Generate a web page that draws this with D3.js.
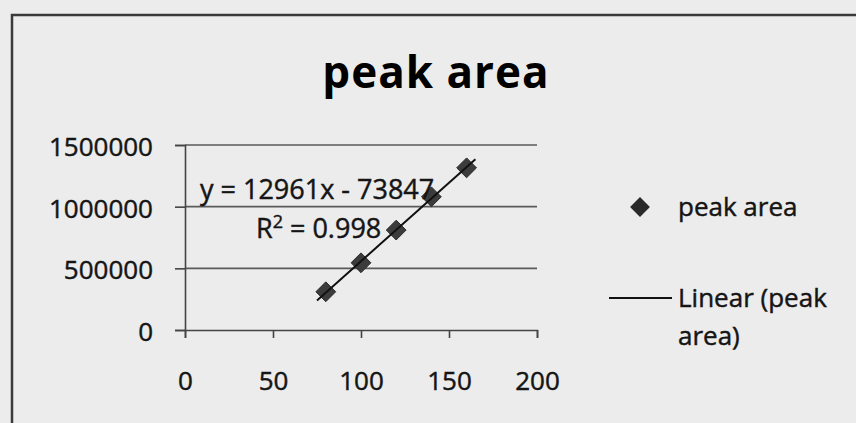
<!DOCTYPE html>
<html>
<head>
<meta charset="utf-8">
<script src="https://cdn.jsdelivr.net/npm/d3@7"></script>
<style>
  html, body { margin: 0; padding: 0; background: #ececec; }
  svg { display: block; font-family: "Open Sans", "Noto Sans", sans-serif; }
  .ink { fill: #151515; stroke: #151515; stroke-width: 0.45px; }
</style>
</head>
<body>
<svg id="chart" width="856" height="423"></svg>
<script>
// values
const concentration = [80, 100, 120, 140, 160];
const peakArea = [310000, 545000, 810000, 1080000, 1315000];
const xTicks = [0, 50, 100, 150, 200];
const yTicks = [0, 500000, 1000000, 1500000];
const titleText = "peak area";
const equationText = "y = 12961x - 73847";
const seriesName = "peak area";
const trendName = ["Linear (peak", "area)"];

function drawScatter() {
  const svg = d3.select("#chart");
  svg.selectAll("*").remove();

  const x = d3.scaleLinear().domain([0, 200]).range([185, 537]);
  const y = d3.scaleLinear().domain([0, 1500000]).range([330, 145]);

  // page frame of the chart object (runs off the right and bottom)
  svg.append("path")
    .attr("d", "M12,430 L12,15 L870,15")
    .attr("fill", "none")
    .attr("stroke", "#3a3a3a")
    .attr("stroke-width", 2.5);

  svg.append("text")
    .attr("x", 436).attr("y", 88)
    .attr("text-anchor", "middle")
    .attr("font-size", 44)
    .attr("font-weight", "bold")
    .attr("letter-spacing", 1)
    .attr("fill", "#000")
    .text(titleText);

  // gridlines
  svg.append("g")
    .selectAll("line")
    .data(yTicks.filter(d => d > 0))
    .enter()
    .append("line")
    .attr("x1", x(0)).attr("x2", x(200))
    .attr("y1", d => y(d)).attr("y2", d => y(d))
    .attr("stroke", "#5a5a5a")
    .attr("stroke-width", 1.6);

  // y axis
  const yAxis = svg.append("g")
    .attr("transform", `translate(${x(0)},0)`)
    .call(d3.axisLeft(y).tickValues(yTicks).tickSize(10).tickPadding(22).tickFormat(d3.format("d")));
  yAxis.select(".domain").attr("stroke", "#444").attr("stroke-width", 1.6);
  yAxis.selectAll(".tick line").attr("stroke", "#444").attr("stroke-width", 1.6);
  yAxis.selectAll("text")
    .attr("class", "ink")
    .attr("font-size", 26)
    .attr("font-family", "\"Open Sans\", sans-serif")
    .attr("dy", "0.4em");

  // x axis
  const xAxis = svg.append("g")
    .attr("transform", `translate(0,${y(0)})`)
    .call(d3.axisBottom(x).tickValues(xTicks).tickSize(8).tickPadding(34));
  xAxis.select(".domain").attr("stroke", "#444").attr("stroke-width", 1.6);
  xAxis.selectAll(".tick line").attr("stroke", "#444").attr("stroke-width", 1.6);
  xAxis.selectAll("text")
    .attr("class", "ink")
    .attr("font-size", 26)
    .attr("font-family", "\"Open Sans\", sans-serif");

  const diamond = d3.symbol().type(d3.symbolDiamond2).size(250);

  svg.append("g")
    .selectAll("path")
    .data(concentration)
    .enter()
    .append("path")
    .attr("d", diamond)
    .attr("transform", (d, i) => `translate(${x(d)},${y(peakArea[i])})`)
    .attr("fill", "#3c3c3c")
    .attr("stroke", "#2a2a2a")
    .attr("stroke-width", 1);

  // least squares trendline over the data range
  const mx = d3.mean(concentration);
  const my = d3.mean(peakArea);
  const slope = d3.sum(concentration, (d, i) => (d - mx) * (peakArea[i] - my)) /
    d3.sum(concentration, d => (d - mx) * (d - mx));
  const icpt = my - slope * mx;
  const [x0, x1] = d3.extent(concentration);
  svg.append("line")
    .attr("x1", x(x0 - 5)).attr("y1", y(slope * (x0 - 5) + icpt))
    .attr("x2", x(x1 + 5)).attr("y2", y(slope * (x1 + 5) + icpt))
    .attr("stroke", "#111")
    .attr("stroke-width", 2);

  svg.append("text")
    .attr("class", "ink")
    .attr("x", 200).attr("y", 199)
    .attr("font-size", 27)
    .text(equationText);

  const r2 = svg.append("text")
    .attr("class", "ink")
    .attr("x", 256).attr("y", 238)
    .attr("font-size", 27);
  r2.append("tspan").text("R");
  r2.append("tspan").attr("font-size", 18).attr("dy", -10).text("2");
  r2.append("tspan").attr("dy", 10).text(" = 0.998");

  // legend
  svg.append("path")
    .attr("d", diamond)
    .attr("transform", "translate(640,207)")
    .attr("fill", "#2a2a2a");
  svg.append("text")
    .attr("class", "ink")
    .attr("x", 678).attr("y", 216)
    .attr("font-size", 26)
    .text(seriesName);

  svg.append("line")
    .attr("x1", 609).attr("x2", 672)
    .attr("y1", 298).attr("y2", 298)
    .attr("stroke", "#111")
    .attr("stroke-width", 2);
  svg.append("g")
    .selectAll("text")
    .data(trendName)
    .enter()
    .append("text")
    .attr("class", "ink")
    .attr("x", 678)
    .attr("y", (d, i) => 307 + i * 38)
    .attr("font-size", 26)
    .text(d => d);
}

drawScatter();
</script>
</body>
</html>
